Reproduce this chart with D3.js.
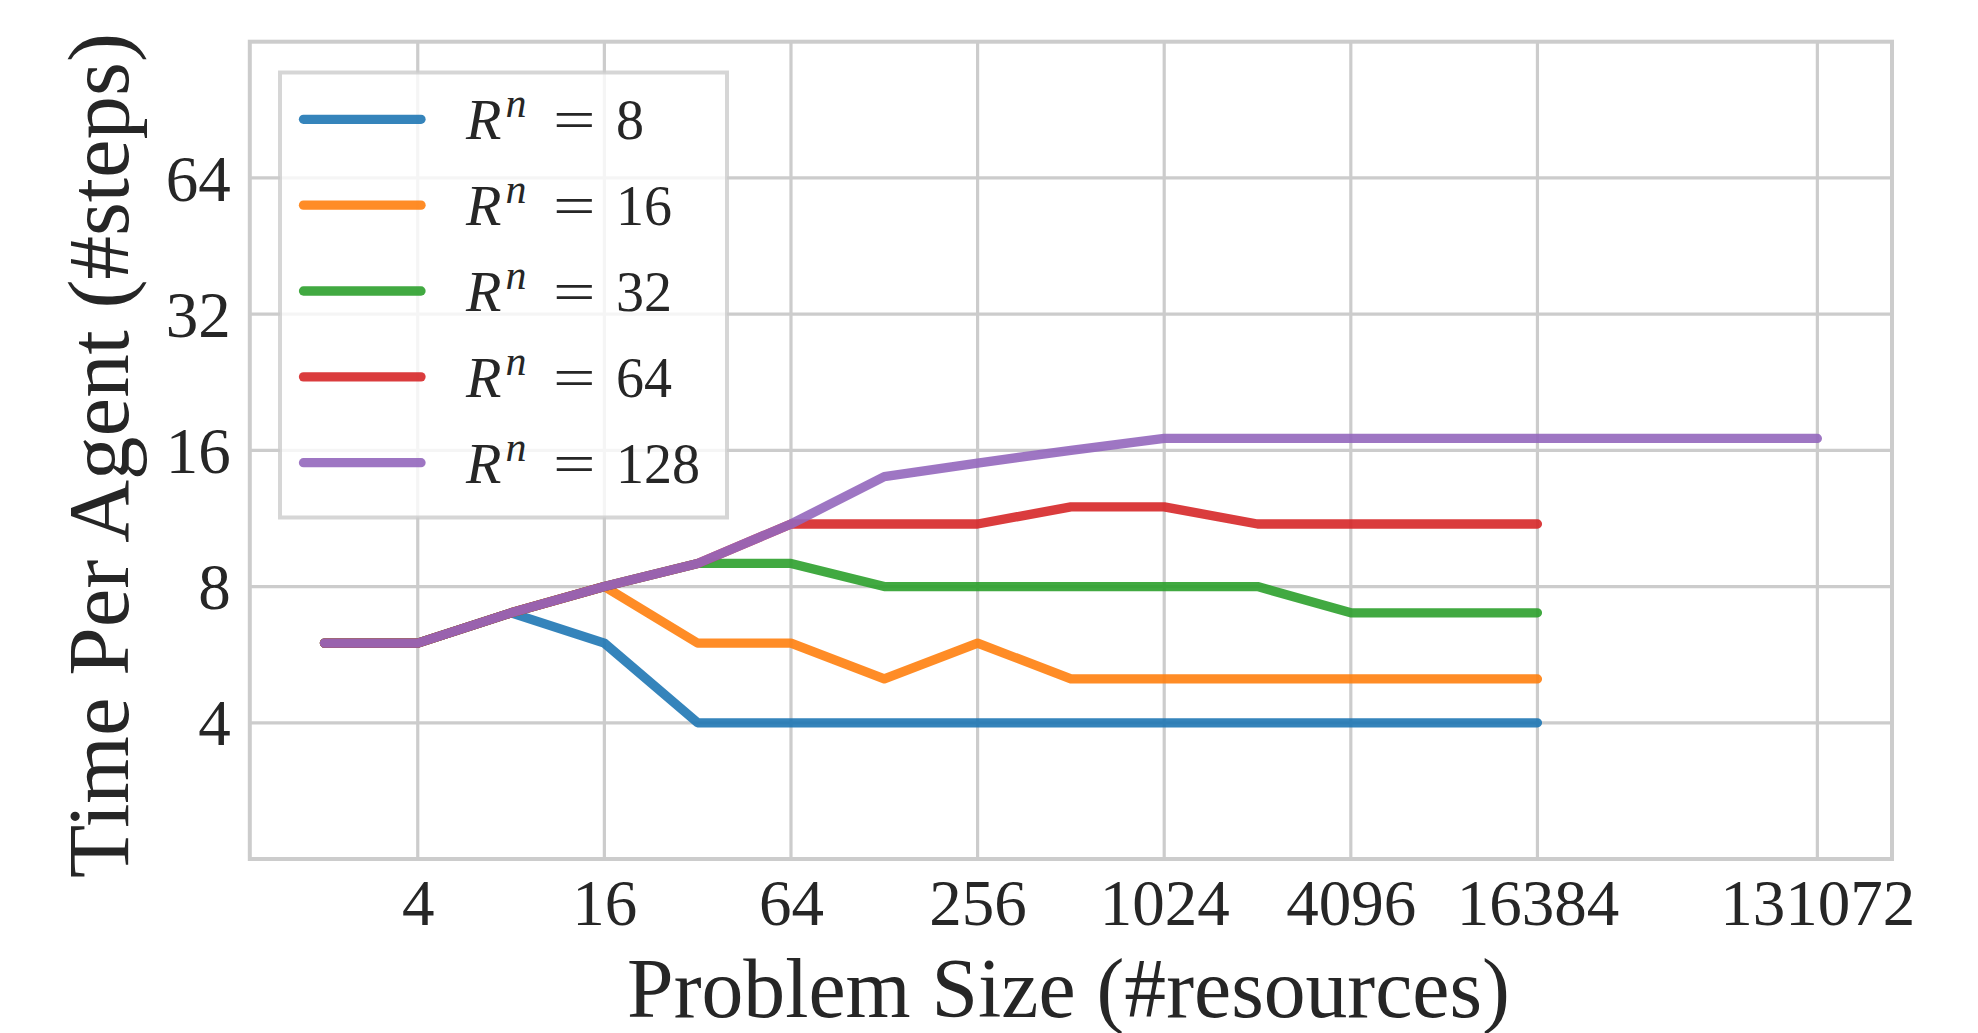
<!DOCTYPE html>
<html>
<head>
<meta charset="utf-8">
<script src="https://cdn.jsdelivr.net/npm/d3@7"></script>
<style>
  html, body { margin: 0; padding: 0; background: #ffffff; }
  svg { display: block; }
  text { font-family: "Liberation Serif", "Times New Roman", serif; fill: #262626; }
</style>
</head>
<body>
<svg id="chart" width="1978" height="1033"></svg>
<script>
// ---- data ----
const sizes = [2, 4, 8, 16, 32, 64, 128, 256, 512, 1024, 2048, 4096, 8192, 16384];
const sizes128 = [2, 4, 8, 16, 32, 64, 128, 256, 512, 1024, 2048, 4096, 8192, 16384, 131072];
const rn8   = [6, 6, 7, 6, 4, 4, 4, 4, 4, 4, 4, 4, 4, 4];
const rn16  = [6, 6, 7, 8, 6, 6, 5, 6, 5, 5, 5, 5, 5, 5];
const rn32  = [6, 6, 7, 8, 9, 9, 8, 8, 8, 8, 8, 7, 7, 7];
const rn64  = [6, 6, 7, 8, 9, 11, 11, 11, 12, 12, 11, 11, 11, 11];
const rn128 = [6, 6, 7, 8, 9, 11, 14, 15, 16, 17, 17, 17, 17, 17, 17];
const seriesLabels = ["8", "16", "32", "64", "128"];
const xTicks = [4, 16, 64, 256, 1024, 4096, 16384, 131072];
const yTicks = [4, 8, 16, 32, 64];
const xLabel = "Problem Size (#resources)";
const yLabel = "Time Per Agent (#steps)";

const series = [
  { label: seriesLabels[0], xs: sizes, ys: rn8 },
  { label: seriesLabels[1], xs: sizes, ys: rn16 },
  { label: seriesLabels[2], xs: sizes, ys: rn32 },
  { label: seriesLabels[3], xs: sizes, ys: rn64 },
  { label: seriesLabels[4], xs: sizes128, ys: rn128 }
];
const colors = ["#1f77b4", "#ff7f0e", "#2ca02c", "#d62728", "#9467bd"];

// ---- layout ----
const L = 249.8, R = 1892, T = 41.7, B = 859;
const LW = 9.3;
const svg = d3.select("#chart");

const x = d3.scaleLog().base(2).domain([Math.pow(2, 0.2), Math.pow(2, 17.8)]).range([L, R]);
const y = d3.scaleLog().base(2).domain([2, 128]).range([B, T]);

// grid
const grid = svg.append("g");
grid.selectAll("line.gx").data(xTicks).enter().append("line")
  .attr("x1", d => x(d)).attr("x2", d => x(d)).attr("y1", T).attr("y2", B)
  .attr("stroke", "#cccccc").attr("stroke-width", 3.2);
grid.selectAll("line.gy").data(yTicks).enter().append("line")
  .attr("x1", L).attr("x2", R).attr("y1", d => y(d)).attr("y2", d => y(d))
  .attr("stroke", "#cccccc").attr("stroke-width", 3.2);

// axes (labels only, no tick marks)
const xAxis = d3.axisBottom(x).tickValues(xTicks).tickFormat(d3.format("d")).tickSize(0).tickPadding(0);
const gx = svg.append("g").attr("transform", `translate(0,${B})`).call(xAxis);
gx.select(".domain").remove();
gx.selectAll("text").attr("font-size", 65).attr("dy", null).attr("y", 66)
  .style("font-family", "'Liberation Serif', serif").attr("fill", "#262626");

const yAxis = d3.axisLeft(y).tickValues(yTicks).tickFormat(d3.format("d")).tickSize(0).tickPadding(0);
const gy = svg.append("g").attr("transform", `translate(${L},0)`).call(yAxis);
gy.select(".domain").remove();
gy.selectAll("text").attr("font-size", 65).attr("x", -19).attr("dy", "0.34em")
  .style("font-family", "'Liberation Serif', serif").attr("fill", "#262626");

// lines
const lineGen = d3.line().x(d => x(d[0])).y(d => y(d[1]));
const linesG = svg.append("g");
series.forEach((s, i) => {
  const pts = s.xs.map((xv, j) => [xv, s.ys[j]]);
  linesG.append("path").datum(pts)
    .attr("d", lineGen)
    .attr("fill", "none")
    .attr("stroke", colors[i])
    .attr("stroke-opacity", 0.9)
    .attr("stroke-width", LW)
    .attr("stroke-linecap", "round")
    .attr("stroke-linejoin", "round");
});

// frame
svg.append("rect").attr("x", L).attr("y", T).attr("width", R - L).attr("height", B - T)
  .attr("fill", "none").attr("stroke", "#cccccc").attr("stroke-width", 4);

// legend
const lg = svg.append("g");
lg.append("rect").attr("x", 280).attr("y", 72.5).attr("width", 447).attr("height", 445)
  .attr("fill", "#ffffff").attr("fill-opacity", 0.8)
  .attr("stroke", "#cccccc").attr("stroke-opacity", 0.8).attr("stroke-width", 4);
series.forEach((s, i) => {
  const cy = 119.3 + i * 85.85;
  lg.append("line").attr("x1", 303.5).attr("x2", 421).attr("y1", cy).attr("y2", cy)
    .attr("stroke", colors[i]).attr("stroke-opacity", 0.9).attr("stroke-width", LW)
    .attr("stroke-linecap", "round");
  const t = lg.append("text").attr("x", 466).attr("y", cy + 20).attr("font-size", 58);
  t.append("tspan").attr("font-style", "italic").text("R");
  t.append("tspan").attr("font-style", "italic").attr("font-size", 42).attr("dx", 4).attr("dy", -22).text("n");
  lg.append("text").attr("transform", `translate(553,${cy + 20}) scale(1.3,1)`)
    .attr("font-size", 58).text("=");
  lg.append("text").attr("x", 616).attr("y", cy + 20).attr("font-size", 56).text(s.label);
});

// axis titles
const xt = svg.append("text").attr("x", 1068.5).attr("y", 1016.5)
  .attr("text-anchor", "middle").attr("font-size", 82).text(xLabel);
const yt = svg.append("text").attr("transform", "translate(128,455.5) rotate(-90)")
  .attr("text-anchor", "middle").attr("font-size", 82).text(yLabel);
// fit title widths to the measured extents
const fit = (sel, target) => {
  const len = sel.node().getComputedTextLength();
  const fs = +sel.attr("font-size");
  sel.attr("font-size", fs * target / len);
};
fit(xt, 883);
fit(yt, 845);
</script>
</body>
</html>
